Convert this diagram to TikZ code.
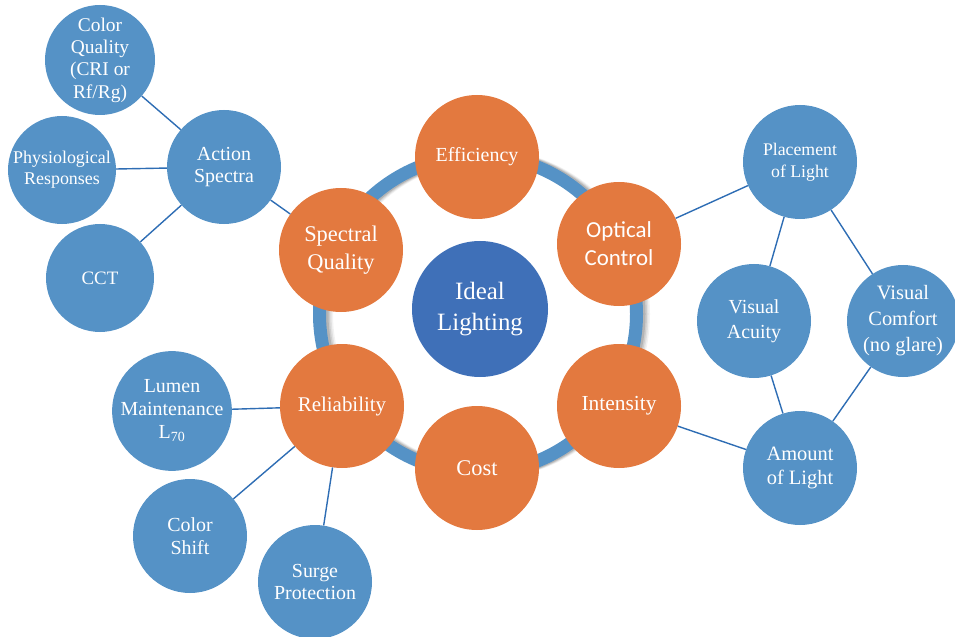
\documentclass[tikz,border=0pt]{standalone}
\usepackage{fontspec}
\setmainfont{Liberation Serif}
\newfontfamily\ctrlfont{Carlito}

\definecolor{hubblue}{HTML}{3F70B8}
\definecolor{leafblue}{HTML}{5592C6}
\definecolor{petal}{HTML}{E3793F}
\definecolor{linkblue}{HTML}{2E6DB4}

\tikzset{
  bubble/.style={circle, inner sep=0pt, text=white, align=center},
  petalnode/.style={bubble, fill=petal, minimum size=124bp},
  leaf/.style={bubble, fill=leafblue, minimum size=114bp, font=\fontsize{20}{23}\selectfont},
  link/.style={draw=linkblue, line width=1.4bp},
  ringshade/.style={draw=black, draw opacity=#1, line width=13bp},
}

\begin{document}
\begin{tikzpicture}[x=1bp, y=-1bp]
  \useasboundingbox (0,0) rectangle (955,637);

  % ring joining the six factors, with a soft shadow cast to the right
  \coordinate (hub) at (478,314);
  \foreach \dx/\op in {7/0.05, 5.5/0.07, 4/0.09, 2.5/0.12} {
    \draw[ringshade=\op] ([xshift=\dx bp]hub) circle (158.5bp);
  }
  \draw[leafblue, line width=13bp] (hub) circle (158.5bp);

  % centre
  \node[bubble, fill=hubblue, minimum size=136bp,
        font=\fontsize{25}{32}\selectfont] (ideal) at (480,309) {Ideal\\Lighting};

  % the six factors
  \node[petalnode, font=\fontsize{20}{24}\selectfont] (eff) at (477,157) {Efficiency};
  \node[petalnode, font=\ctrlfont\fontsize{23}{28}\selectfont] (optic) at (619,244) {Optical\\Control};
  \node[petalnode, font=\fontsize{21.5}{24}\selectfont] (inten) at (619,406) {Intensity};
  \node[petalnode, font=\fontsize{22.5}{26}\selectfont] (cost) at (477,468) {Cost};
  \node[petalnode, font=\fontsize{21}{24}\selectfont] (relia) at (342,406) {Reliability};
  \node[petalnode, font=\fontsize{22.5}{28}\selectfont] (spec) at (341,250) {Spectral\\Quality};

  % spectral quality branch
  \node[leaf] (action) at (224,167) {Action\\Spectra};
  \node[leaf, minimum size=110bp, font=\fontsize{19.5}{22.5}\selectfont] (cq) at (100,60) {Color\\Quality\\(CRI or\\Rf/Rg)};
  \node[leaf, minimum size=108bp, font=\fontsize{18}{21}\selectfont] (phys) at (62,170) {Physiological\\Responses};
  \node[leaf, minimum size=108bp, font=\fontsize{19}{23}\selectfont] (cct) at (100,278) {CCT};

  % reliability branch
  \node[leaf] (lumen) at (172,411) {Lumen\\Maintenance\\L\textsubscript{70}};
  \node[leaf] (cshift) at (190,536) {Color\\Shift};
  \node[leaf] (surge) at (315,582) {Surge\\Protection};

  % optical control / intensity branch
  \node[leaf, font=\fontsize{17.8}{22}\selectfont] (place) at (800,162) {Placement\\of Light};
  \node[leaf, font=\fontsize{20}{25}\selectfont] (acuity) at (754,321) {Visual\\Acuity};
  \node[leaf, minimum size=112bp, font=\fontsize{20.5}{26}\selectfont] (comfort) at (903,321) {Visual\\Comfort\\(no glare)};
  \node[leaf, font=\fontsize{20.5}{23.5}\selectfont] (amount) at (800,468) {Amount\\of Light};

  % connectors
  \draw[link] (cq) -- (action);
  \draw[link] (phys) -- (action);
  \draw[link] (cct) -- (action);
  \draw[link] (action) -- (spec);

  \draw[link] (lumen) -- (relia);
  \draw[link] (cshift) -- (relia);
  \draw[link] (surge) -- (relia);

  \draw[link] (optic) -- (place);
  \draw[link] (place) -- (acuity);
  \draw[link] (place) -- (comfort);
  \draw[link] (acuity) -- (amount);
  \draw[link] (comfort) -- (amount);
  \draw[link] (inten) -- (amount);
\end{tikzpicture}
\end{document}
